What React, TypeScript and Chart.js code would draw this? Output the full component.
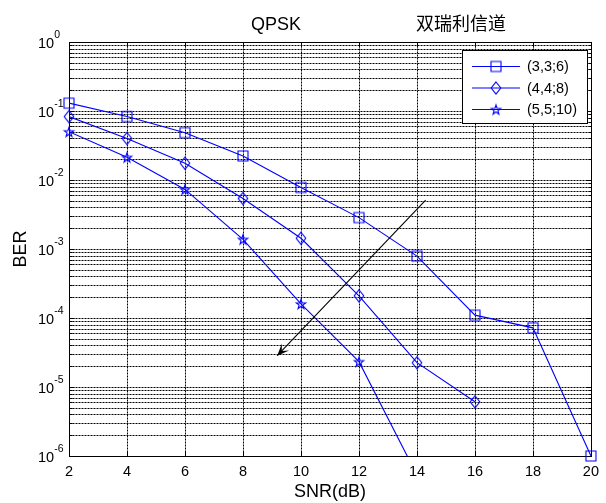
import React, { useEffect, useRef } from "react";
import { Chart, registerables } from "chart.js";

Chart.register(...registerables);

// ---------- data ----------
const snr336 = [2, 4, 6, 8, 10, 12, 14, 16, 18, 20];
const ber336 = [0.13, 0.083, 0.0485, 0.0223, 0.0078, 0.00285, 7.9e-4, 1.1e-4, 7.2e-5, 1e-6];
const snr448 = [2, 4, 6, 8, 10, 12, 14, 16];
const ber448 = [0.083, 0.04, 0.0175, 0.0054, 0.00143, 2.1e-4, 2.25e-5, 6.1e-6];
const snr5510 = [2, 4, 6, 8, 10, 12, 14];
const ber5510 = [0.05, 0.0213, 0.0073, 0.00138, 1.6e-4, 2.33e-5, 5.3e-7];
const seriesLabels = ["(3,3;6)", "(4,4;8)", "(5,5;10)"];
const xTicks = [2, 4, 6, 8, 10, 12, 14, 16, 18, 20];
const yDecades = [-6, -5, -4, -3, -2, -1, 0];
const titleParts = ["QPSK", "双瑞利信道"];
const xTitle = "SNR(dB)";
const yTitle = "BER";
const arrowFrom = [14.3, 5.1e-3];
const arrowTo = [9.18, 2.84e-5];

const BLUE = "#0000ff";
const LATIN = "'Liberation Sans', Arial, sans-serif";
const CJK = "'Noto Sans CJK SC', sans-serif";

function makeMarker(kind: string): HTMLCanvasElement {
  const c = document.createElement("canvas");
  c.width = 16;
  c.height = 16;
  const g = c.getContext("2d")!;
  g.strokeStyle = BLUE;
  g.lineWidth = 1.1;
  g.translate(8, 8);
  g.beginPath();
  if (kind === "square") {
    g.rect(-5, -5, 10, 10);
  } else if (kind === "diamond") {
    g.moveTo(0, -6);
    g.lineTo(4.8, 0);
    g.lineTo(0, 6);
    g.lineTo(-4.8, 0);
    g.closePath();
  } else {
    for (let i = 0; i < 10; i++) {
      const r = i % 2 ? 2.0 : 5.0;
      const a = -Math.PI / 2 + (i * Math.PI) / 5;
      const px = r * Math.cos(a);
      const py = r * Math.sin(a) + 0.5;
      if (i === 0) g.moveTo(px, py);
      else g.lineTo(px, py);
    }
    g.closePath();
  }
  g.stroke();
  return c;
}

function pts(xs: number[], ys: number[]) {
  return xs.map((x, i) => ({ x, y: ys[i] }));
}

export default function App() {
  const ref = useRef<HTMLCanvasElement>(null);

  useEffect(() => {
    const markers = [makeMarker("square"), makeMarker("diamond"), makeMarker("star")];
    const series = [
      pts(snr336, ber336),
      pts(snr448, ber448),
      pts(snr5510, ber5510),
    ];

    const datasets: any[] = [];
    series.forEach((d, i) => {
      datasets.push({
        label: seriesLabels[i],
        data: d,
        borderColor: BLUE,
        borderWidth: 1.1,
        pointRadius: 0,
        tension: 0,
        fill: false,
      });
    });
    series.forEach((d, i) => {
      datasets.push({
        label: seriesLabels[i] + " markers",
        data: d,
        showLine: false,
        pointStyle: markers[i],
        pointRadius: 5,
        borderColor: BLUE,
        clip: false,
      });
    });

    const yGrid: number[] = [];
    yDecades.forEach((d) => {
      if (d === 0) {
        yGrid.push(1);
        return;
      }
      for (let m = 1; m <= 9; m++) yGrid.push(m * Math.pow(10, d));
    });

    const decor = {
      id: "decor",
      beforeDatasetsDraw(chart: any) {
        const { ctx, chartArea: a, scales } = chart;
        const xs = scales.x;
        const ys = scales.y;
        const L = Math.round(a.left) + 0.5;
        const R = Math.round(a.right) + 0.5;
        const T = Math.round(a.top) + 0.5;
        const B = Math.round(a.bottom) + 0.5;
        ctx.save();
        ctx.fillStyle = "#fff";
        ctx.fillRect(a.left, a.top, a.width, a.height);
        ctx.strokeStyle = "#000";
        ctx.lineWidth = 1;
        ctx.setLineDash([2, 1]);
        ctx.beginPath();
        xTicks.forEach((t) => {
          const px = Math.round(xs.getPixelForValue(t)) + 0.5;
          ctx.moveTo(px, T);
          ctx.lineTo(px, B);
        });
        yGrid.forEach((v) => {
          const py = Math.round(ys.getPixelForValue(v)) + 0.5;
          ctx.moveTo(L, py);
          ctx.lineTo(R, py);
        });
        ctx.stroke();
        ctx.setLineDash([]);
        // ticks
        ctx.beginPath();
        xTicks.forEach((t) => {
          const px = Math.round(xs.getPixelForValue(t)) + 0.5;
          ctx.moveTo(px, B);
          ctx.lineTo(px, B - 5);
          ctx.moveTo(px, T);
          ctx.lineTo(px, T + 5);
        });
        yGrid.forEach((v) => {
          const py = Math.round(ys.getPixelForValue(v)) + 0.5;
          const isMajor = Math.abs(Math.log10(v) - Math.round(Math.log10(v))) < 1e-9;
          const len = isMajor ? 5 : 3;
          ctx.moveTo(L, py);
          ctx.lineTo(L + len, py);
          ctx.moveTo(R, py);
          ctx.lineTo(R - len, py);
        });
        ctx.stroke();
        ctx.strokeRect(L, T, R - L, B - T);

        // y tick labels 10^n
        ctx.fillStyle = "#000";
        ctx.textBaseline = "middle";
        ctx.textAlign = "left";
        yDecades.forEach((d) => {
          const py = ys.getPixelForValue(Math.pow(10, d));
          ctx.font = `14.5px ${LATIN}`;
          const base = "10";
          const w = ctx.measureText(base).width;
          ctx.fillText(base, 38, py + 1.5);
          ctx.font = `10.5px ${LATIN}`;
          ctx.fillText(String(d), 38 + w, py - 6.5);
        });

        // titles
        ctx.textAlign = "center";
        ctx.textBaseline = "alphabetic";
        ctx.font = `18px ${LATIN}`;
        ctx.fillText(titleParts[0], 276, 30);
        ctx.font = `18px ${CJK}`;
        ctx.fillText(titleParts[1], 461, 30);

        ctx.font = `18px ${LATIN}`;
        ctx.fillText(xTitle, (a.left + a.right) / 2, 497);
        ctx.save();
        ctx.translate(26, (a.top + a.bottom) / 2);
        ctx.rotate(-Math.PI / 2);
        ctx.fillText(yTitle, 0, 0);
        ctx.restore();
        ctx.restore();
      },
      afterDatasetsDraw(chart: any) {
        const { ctx, scales } = chart;
        const xs = scales.x;
        const ys = scales.y;
        ctx.save();
        // arrow
        const x1 = xs.getPixelForValue(arrowFrom[0]);
        const y1 = ys.getPixelForValue(arrowFrom[1]);
        const x2 = xs.getPixelForValue(arrowTo[0]);
        const y2 = ys.getPixelForValue(arrowTo[1]);
        ctx.strokeStyle = "#000";
        ctx.fillStyle = "#000";
        ctx.lineWidth = 1.1;
        ctx.beginPath();
        ctx.moveTo(x1, y1);
        ctx.lineTo(x2, y2);
        ctx.stroke();
        const len = Math.hypot(x1 - x2, y1 - y2);
        const ux = (x1 - x2) / len;
        const uy = (y1 - y2) / len;
        const nx = -uy;
        const ny = ux;
        const HL = 12;
        const HW = 5;
        ctx.beginPath();
        ctx.moveTo(x2, y2);
        ctx.lineTo(x2 + ux * HL + nx * HW, y2 + uy * HL + ny * HW);
        ctx.lineTo(x2 + ux * HL * 0.55, y2 + uy * HL * 0.55);
        ctx.lineTo(x2 + ux * HL - nx * HW, y2 + uy * HL - ny * HW);
        ctx.closePath();
        ctx.fill();

        // legend
        const bx = 462.5, by = 50.5, bw = 125, bh = 73;
        ctx.fillStyle = "#fff";
        ctx.fillRect(bx, by, bw, bh);
        ctx.strokeStyle = "#000";
        ctx.lineWidth = 1;
        ctx.strokeRect(bx, by, bw, bh);
        const rows = [66, 87.5, 109];
        ctx.font = `14.5px ${LATIN}`;
        ctx.textAlign = "left";
        ctx.textBaseline = "middle";
        seriesLabels.forEach((lab, i) => {
          const ry = rows[i] + 0.5;
          ctx.strokeStyle = BLUE;
          ctx.beginPath();
          ctx.moveTo(472, ry);
          ctx.lineTo(520, ry);
          ctx.stroke();
          const m = markers[i];
          ctx.drawImage(m, 496 - m.width / 2, ry - m.height / 2);
          ctx.fillStyle = "#000";
          ctx.fillText(lab, 527, rows[i] + 1);
        });
        ctx.restore();
      },
    };

    const chart = new Chart(ref.current!, {
      type: "line",
      data: { datasets },
      options: {
        animation: false,
        responsive: false,
        maintainAspectRatio: false,
        parsing: false as any,
        layout: { padding: { top: 42, right: 8, left: 0, bottom: 0 } },
        plugins: {
          legend: { display: false },
          title: { display: false },
          tooltip: { enabled: false },
        },
        scales: {
          x: {
            type: "linear",
            min: 2,
            max: 20,
            grid: { display: false, drawTicks: false },
            border: { display: false },
            ticks: {
              stepSize: 2,
              color: "#000",
              padding: 7,
              maxRotation: 0,
              font: { family: LATIN, size: 14.5 },
            },
            afterFit: (s: any) => {
              s.height = 47;
            },
          },
          y: {
            type: "logarithmic",
            min: 1e-6,
            max: 1,
            grid: { display: false, drawTicks: false },
            border: { display: false },
            ticks: { display: false },
            afterFit: (s: any) => {
              s.width = 69;
            },
          },
        },
      },
      plugins: [decor],
    } as any);
    return () => chart.destroy();
  }, []);

  return (
    <div style={{ position: "fixed", left: 0, top: 0, width: 606, height: 503, background: "#fff" }}>
      <canvas ref={ref} width={606} height={503} style={{ display: "block" }} />
    </div>
  );
}
